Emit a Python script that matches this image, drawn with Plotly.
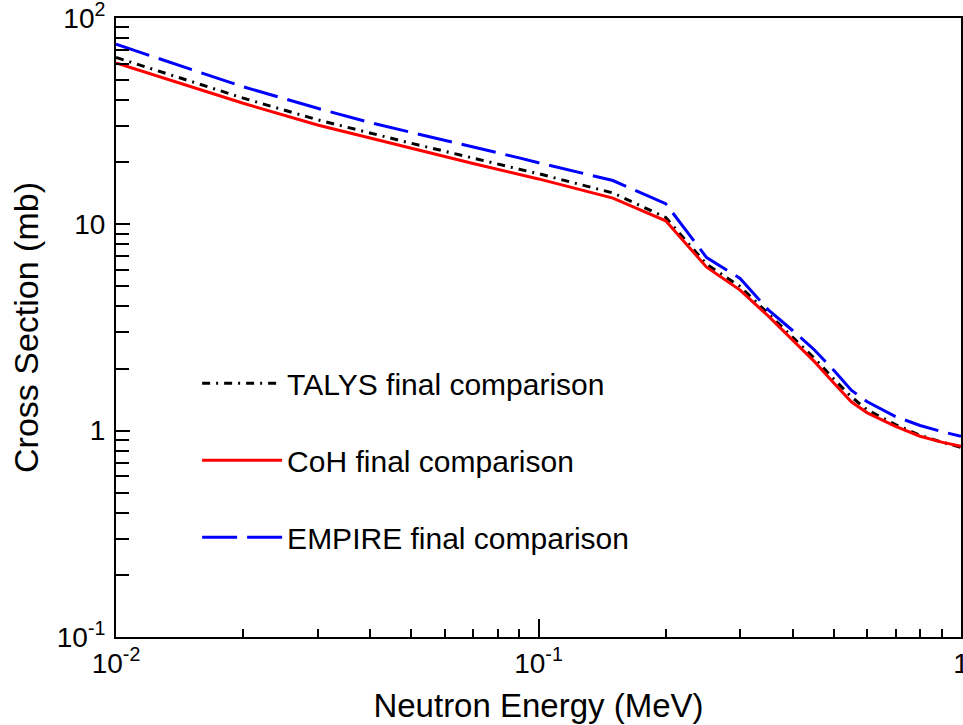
import plotly.graph_objects as go

energy = [0.01, 0.02, 0.03, 0.04, 0.05, 0.06, 0.07, 0.08, 0.09, 0.1, 0.15, 0.2, 0.25, 0.3,
          0.35, 0.4, 0.45, 0.5, 0.55, 0.6, 0.7, 0.8, 0.9, 1.0]
talys = [64.4, 40.9, 32.1, 27.6, 24.7, 22.6, 20.9, 19.6, 18.5, 17.6, 14.2, 10.8, 6.4, 5.0,
         3.7, 2.83, 2.24, 1.78, 1.46, 1.26, 1.07, 0.95, 0.88, 0.83]
coh = [60.5, 38.6, 30.3, 26.1, 23.3, 21.3, 19.7, 18.5, 17.5, 16.6, 13.4, 10.4, 6.2, 4.8,
       3.59, 2.75, 2.16, 1.70, 1.38, 1.22, 1.05, 0.94, 0.88, 0.84]
empire = [74.6, 46.4, 36.5, 31.1, 27.9, 25.6, 23.7, 22.2, 21.0, 19.9, 16.3, 12.6, 6.9, 5.47,
          3.85, 3.05, 2.46, 1.96, 1.57, 1.38, 1.17, 1.06, 0.99, 0.94]

series_names = ["TALYS final comparison", "CoH final comparison", "EMPIRE final comparison"]

x_tickvals = [0.01, 0.1, 1]
x_ticktext = ["10<sup>-2</sup>", "10<sup>-1</sup>", "1"]
y_tickvals = [0.1, 1, 10, 100]
y_ticktext = ["10<sup>-1</sup>", "1", "10", "10<sup>2</sup>"]

x_minor = [m * d for d in (0.01, 0.1) for m in range(2, 10)]
y_minor = [m * d for d in (0.1, 1, 10) for m in range(2, 10)]

FONT = "Liberation Sans, Arial, Helvetica, sans-serif"

fig = go.Figure()
fig.add_trace(go.Scatter(x=energy, y=talys, mode="lines", name=series_names[0],
                         line=dict(color="black", width=3, dash="8px,6px,2px,6px"),
                         legendgroup="a"))
fig.add_trace(go.Scatter(x=energy, y=coh, mode="lines", name=series_names[1],
                         line=dict(color="#ff0000", width=3),
                         legendgroup="b"))
fig.add_trace(go.Scatter(x=energy, y=empire, mode="lines", name=series_names[2],
                         line=dict(color="#0000ff", width=3, dash="35px,10px"),
                         legendgroup="c"))

fig.update_layout(
    width=963, height=725, autosize=False,
    margin=dict(l=116, r=2, t=18, b=88),
    paper_bgcolor="white", plot_bgcolor="white",
    font=dict(family=FONT, color="black", size=26),
    legend=dict(x=0.096, y=0.452, xanchor="left", yanchor="top",
                bgcolor="rgba(0,0,0,0)", borderwidth=0,
                font=dict(size=30, family=FONT), tracegroupgap=35,
                itemwidth=80),
    showlegend=True,
)

fig.update_xaxes(
    type="log", range=[-2, 0], automargin=False,
    tickmode="array", tickvals=x_tickvals, ticktext=x_ticktext,
    ticks="inside", ticklen=18, tickwidth=2, tickcolor="black",
    showline=True, linecolor="black", linewidth=2, mirror=True,
    showgrid=False, zeroline=False, ticklabeloverflow="allow",
    tickfont=dict(size=28, family=FONT),
    minor=dict(tickmode="array", tickvals=x_minor, ticks="inside", ticklen=8,
               tickwidth=2, tickcolor="black", showgrid=False),
    title=dict(text="Neutron Energy (MeV)", font=dict(size=33, family=FONT), standoff=16),
)
fig.update_yaxes(
    type="log", range=[-1, 2], automargin=False,
    tickmode="array", tickvals=y_tickvals, ticktext=y_ticktext,
    ticks="inside", ticklen=14, tickwidth=2, tickcolor="black",
    showline=True, linecolor="black", linewidth=2, mirror=True,
    showgrid=False, zeroline=False, ticklabeloverflow="allow",
    ticklabelstandoff=3,
    tickfont=dict(size=28, family=FONT),
    minor=dict(tickmode="array", tickvals=y_minor, ticks="inside", ticklen=13,
               tickwidth=2, tickcolor="black", showgrid=False),
    title=dict(text="Cross Section (mb)", font=dict(size=34, family=FONT), standoff=8),
)

post = ("document.body.style.margin='0px';"
        "document.body.style.overflow='hidden';"
        "var gd=document.getElementById('{plot_id}');"
        "Plotly.relayout(gd,{width:963,height:725});")

fig.write_html("out.html", post_script=post,
               config={"responsive": False, "displayModeBar": False})
